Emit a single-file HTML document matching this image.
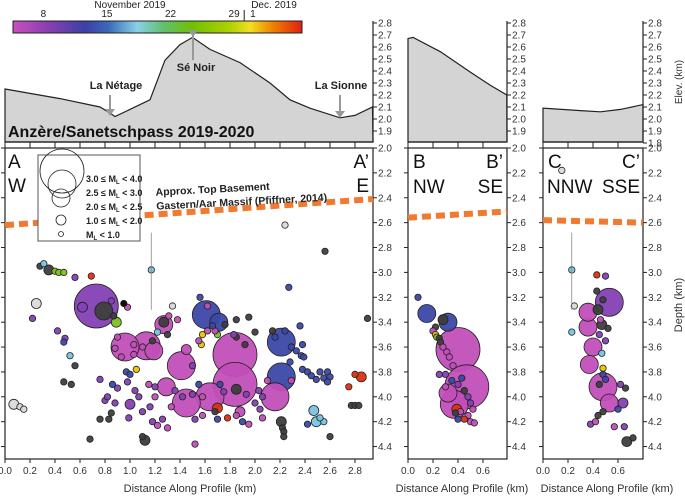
<!DOCTYPE html>
<html><head><meta charset="utf-8"><style>
body{margin:0;background:#fff;}
svg{display:block;font-family:"Liberation Sans",Arial,sans-serif;}
</style></head><body>
<svg id="fig" width="685" height="496" viewBox="0 0 685 496" xmlns="http://www.w3.org/2000/svg">
<defs>
<linearGradient id="cbar" x1="0" x2="1" y1="0" y2="0">
<stop offset="0" stop-color="#c850c0"/><stop offset="0.12" stop-color="#8a3fb0"/><stop offset="0.25" stop-color="#3c40a8"/><stop offset="0.33" stop-color="#3a6ab8"/><stop offset="0.43" stop-color="#8ad0e8"/><stop offset="0.52" stop-color="#60c070"/><stop offset="0.62" stop-color="#70c000"/><stop offset="0.75" stop-color="#b0d000"/><stop offset="0.82" stop-color="#f0e020"/><stop offset="0.9" stop-color="#f08000"/><stop offset="1" stop-color="#e02010"/>
</linearGradient>
</defs>
<g id="static"></g>
<g id="marks"></g>
</svg>
<script>
// ---- data ----
const elevAkm=[0,0.44,0.76,0.84,0.88,1.16,1.28,1.40,1.50,1.64,1.88,2.12,2.28,2.44,2.68,2.80,2.94];
const elevAval=[2.25,2.17,2.1,2.05,2.02,2.16,2.49,2.62,2.68,2.58,2.47,2.3,2.16,2.09,2.01,2.03,2.1];
const elevBkm=[0,0.04,0.26,0.50,0.66,0.79];
const elevBval=[2.67,2.68,2.56,2.39,2.28,2.2];
const elevCkm=[0,0.3,0.46,0.62,0.8];
const elevCval=[2.09,2.07,2.06,2.08,2.12];
const basementA=[2.62,2.41];
const basementB=[2.56,2.51];
const basementC=[2.58,2.6];
const depthTicks=[2.0,2.2,2.4,2.6,2.8,3.0,3.2,3.4,3.6,3.8,4.0,4.2,4.4];
const elevTicks=[2.8,2.7,2.6,2.5,2.4,2.3,2.2,2.1,2.0,1.9];
const distTicksA=[0.0,0.2,0.4,0.6,0.8,1.0,1.2,1.4,1.6,1.8,2.0,2.2,2.4,2.6,2.8];
const distTicksB=[0.0,0.2,0.4,0.6];
const cbarTicks=["8","15","22","29","1"];
const cbarTickPos=[0.105,0.325,0.545,0.765,0.83];

const aDist=[0.73,0.79,0.62,0.96,1.13,1.19,1.27,1.27,1.61,1.71,1.84,1.84,1.64,1.45,1.41,1.45,1.29,2.21,2.21,2.16,1.00,2.85,0.07,2.47,2.49,1.88,2.21,1.70,1.12,1.85,0.89,0.35,0.25,
0.28,0.31,0.40,0.43,0.47,0.56,0.69,1.17,2.24,2.56,2.27,1.56,1.34,2.9,0.22,0.42,0.48,0.47,0.52,0.56,0.47,0.53,0.76,0.68,0.76,0.83,0.85,0.8,0.82,0.88,0.9,0.86,0.97,1.0,1.05,0.98,1.04,1.07,1.1,0.99,1.15,1.2,1.2,1.16,1.18,1.22,1.26,1.3,1.33,1.36,1.42,1.5,1.55,1.58,1.58,1.52,1.52,1.68,1.7,1.78,1.85,1.9,1.95,1.93,1.75,1.72,1.5,1.57,1.58,1.55,1.62,1.7,1.68,1.85,2.0,1.92,1.83,1.38,1.31,1.3,1.22,1.18,1.1,1.03,0.9,0.88,1.03,0.93,1.76,1.95,1.85,1.62,1.66,2.36,2.24,2.29,2.33,2.37,2.39,2.38,2.28,2.38,2.42,2.45,2.49,2.52,2.55,2.58,2.6,2.58,2.29,2.1,2.03,2.06,2.04,2.06,2.0,2.22,2.23,2.23,2.6,2.42,2.55,2.52,2.75,2.8,2.77,2.8,2.83,2.16,2.14,0.12,0.15,1.1,0.87,0.85,0.98,0.95];
const aDepth=[3.27,3.31,3.28,3.60,3.59,3.63,3.42,3.40,3.34,3.40,3.66,3.90,4.00,4.05,3.75,3.62,3.92,3.56,3.84,4.00,4.06,3.84,4.06,4.11,4.20,4.12,4.20,4.09,4.35,3.94,3.40,2.98,3.25,
2.95,2.93,2.99,3.0,3.0,3.04,3.03,2.98,2.62,2.83,3.12,3.2,3.27,3.37,3.37,3.47,3.53,3.56,3.67,3.75,3.88,3.9,3.86,4.34,4.18,4.18,4.13,4.03,4.0,4.05,3.93,3.9,3.8,3.82,3.78,3.88,3.95,4.0,4.12,4.17,3.9,3.92,4.0,4.08,4.2,4.23,4.18,4.25,4.08,3.95,4.0,3.98,3.9,4.0,4.15,4.18,4.38,4.12,4.18,4.17,4.15,4.2,4.22,3.98,3.96,3.9,3.75,3.58,3.5,3.55,3.47,3.5,3.47,3.52,3.48,3.58,3.5,3.38,3.35,3.5,3.48,3.55,3.6,3.58,3.52,3.61,3.66,3.68,3.42,3.36,3.38,3.27,3.43,3.43,3.47,3.6,3.63,3.67,3.68,3.58,3.72,3.78,3.8,3.83,3.86,3.8,3.85,3.8,3.84,3.88,3.87,3.87,3.95,4.0,4.1,4.17,4.05,4.25,4.28,4.32,4.32,4.22,4.2,4.17,3.92,3.82,4.07,4.07,4.07,3.52,3.47,4.08,4.1,4.32,3.35,3.23,3.28,3.25];
const aMag=[3.2,2.3,1.2,2.6,2.8,2.3,2.4,1.5,2.6,2.2,3.3,3.3,2.9,2.9,2.6,1.8,2.4,2.6,2.6,2.6,1.9,1.9,1.9,1.2,1.5,1.8,1.2,1.2,1.2,1.2,1.2,1.5,1.5];
const aColor="PKPMMMMKBBMMMMMMMBBMPRWLLMKRKKGKW"+"KLGGGPRLWKBBWKPPPBLKKKPKKKKPPPPBBBYPPPPPMPMPPMPMMPPPBMMPMKBRMBMPPBPYYMMGMKKKPMMKLKMMMMMMKKKMBBBBBBBBBBBBBBBBBBMMPPPMPKKKKBLLRRKKKBKWWKKPM";

const bDist=[0.08,0.15,0.32,0.28,0.4,0.47,0.32,0.37,0.39,0.22,0.2,0.22,0.23,0.25,0.26,0.28,0.31,0.33,0.36,0.3,0.35,0.4,0.45,0.48,0.5,0.52,0.48,0.45,0.4,0.5,0.53,0.42,0.38,0.3,0.43,0.25];
const bDepth=[3.2,3.33,3.4,3.38,3.62,3.92,3.97,4.06,4.1,3.44,3.47,3.5,3.52,3.53,3.56,3.6,3.64,3.68,3.75,3.82,3.87,3.9,3.95,4.0,4.05,4.1,4.15,4.18,4.18,4.2,4.21,4.12,4.13,3.92,3.85,3.82];
const bMag=[0.5,2.2,2.1,1.2,3.3,3.3,2.4,2.6,1.2];
const bColor="BBBKMMMMRKMYGKKMMMMPBPKPPMMRBMMMKMBP";

const cDist=[0.15,0.23,0.25,0.43,0.5,0.43,0.53,0.36,0.44,0.36,0.47,0.4,0.37,0.48,0.53,0.64,0.67,0.23,0.47,0.48,0.48,0.5,0.45,0.62,0.66,0.38,0.42,0.57,0.65,0.48,0.44,0.6,0.45,0.5,0.52,0.46,0.48,0.72];
const cDepth=[2.18,2.98,3.27,3.02,3.03,3.15,3.24,3.32,3.3,3.44,3.42,3.6,3.74,3.92,4.05,4.05,4.36,3.48,3.65,3.77,3.82,3.86,3.9,3.9,3.93,4.22,4.2,4.24,4.24,4.12,4.15,4.1,3.5,3.55,3.45,3.38,3.22,4.33];
const cMag=[0.5,0.5,0.5,0.5,0.5,0.5,2.6,2.3,1.8,2.4,1.2,2.4,2.3,2.8,2.4,1.9,1.2];
const cColor="WLWRPKPMKMKMMMMPKLLYBBKPKPMMPKKBPPKMKK";

const palette={M:"#c24fb8",P:"#8440b4",B:"#3b48a6",K:"#3e3e3e",L:"#78c4e4",G:"#7cc21e",R:"#e0300e",Y:"#e8c400",W:"#dadada"};

// ---- helpers ----
const NS="http://www.w3.org/2000/svg";
const S=document.getElementById('static'), MK=document.getElementById('marks');
function el(tag,attrs,parent,txt){const e=document.createElementNS(NS,tag);for(const k in attrs)e.setAttribute(k,attrs[k]);if(txt!==undefined)e.textContent=txt;(parent||S).appendChild(e);return e;}
const Y0=148,KM=124.4;
function yD(d){return Y0+(d-2.0)*KM;}
function yE(e){return 23+(2.8-e)*120;}
const panels=[{x0:5,x1:373,lab:378},{x0:408,x1:507,lab:512},{x0:543,x1:643,lab:648}];
function xP(p,d){return panels[p].x0+d*125;}
function rad(m){return m<1?3.2:m<2?5:m<2.5?9:m<3?14:22;}

// colorbar
let g=el('g',{});


el('rect',{x:13,y:21,width:289,height:12,fill:'url(#cbar)',stroke:'#222','stroke-width':1},g);
cbarTicks.forEach((t,i)=>{const x=13+cbarTickPos[i]*289;const tx=el('text',{x:x,y:17,'font-size':'10','text-anchor':'middle',fill:'#222'},g,t);});
el('line',{x1:13+0.8*289,x2:13+0.8*289,y1:10,y2:21,stroke:'#222'},g);
el('text',{x:130,y:8,'font-size':'10','text-anchor':'middle',fill:'#222'},g,'November 2019');
el('text',{x:274,y:8,'font-size':'10','text-anchor':'middle',fill:'#222'},g,'Dec. 2019');

// elevation panels
function profile(p,kms,vals,name){
  const x0=panels[p].x0,x1=panels[p].x1;
  let d='M'+x0+','+142;
  kms.forEach((k,i)=>{d+=' L'+xP(p,k).toFixed(1)+','+yE(vals[i]).toFixed(1);});
  d+=' L'+x1+',142 Z';
  const pa=el('path',{d:d,fill:'#d4d4d4',stroke:'#222','stroke-width':1.2});
  
  
  el('line',{x1:x1,x2:x1,y1:21,y2:142,stroke:'#222','stroke-width':1.2});
  el('line',{x1:x0,x2:x1,y1:142,y2:142,stroke:'#222','stroke-width':1.2});
  const ticks=p===2?elevTicks.concat([1.8]):elevTicks;
  ticks.forEach(t=>{el('line',{x1:x1,x2:x1+4,y1:yE(t),y2:yE(t),stroke:'#222'});
    const tx=el('text',{x:panels[p].lab,y:yE(t)+3.5,'font-size':'10',fill:'#333'},S,t.toFixed(1));
    });
}
profile(0,elevAkm,elevAval,'elevation-profile-a');
profile(1,elevBkm,elevBval,'elevation-profile-b');
profile(2,elevCkm,elevCval,'elevation-profile-c');
// labels in elevation
function arrow(x,y1,y2){el('line',{x1:x,x2:x,y1:y1,y2:y2-6,stroke:'#999','stroke-width':2});el('path',{d:`M${x-5},${y2-7} L${x+5},${y2-7} L${x},${y2} Z`,fill:'#999'});}
el('text',{x:116,y:89,'font-size':'11','font-weight':'bold','text-anchor':'middle',fill:'#222'},S,'La Nétage');arrow(110,95,116);
el('text',{x:196,y:71,'font-size':'11','font-weight':'bold','text-anchor':'middle',fill:'#222'},S,'Sé Noir');arrow(193,60,37);
el('text',{x:341,y:89,'font-size':'11','font-weight':'bold','text-anchor':'middle',fill:'#222'},S,'La Sionne');arrow(340,95,118);
el('text',{x:8,y:137,'font-size':'16','font-weight':'bold',fill:'#111'},S,'Anzère/Sanetschpass 2019-2020');
const et=el('text',{x:0,y:0,'font-size':'10',fill:'#333',transform:'translate(682,82) rotate(-90)','text-anchor':'middle'},S,'Elev. (km)');

// depth frames
panels.forEach((P,p)=>{
  const fr=el('rect',{x:P.x0,y:Y0,width:P.x1-P.x0,height:459-Y0,fill:'none',stroke:'#222','stroke-width':1.2});
  
  depthTicks.forEach(t=>{el('line',{x1:P.x1,x2:P.x1+4,y1:yD(t),y2:yD(t),stroke:'#222'});
    el('line',{x1:P.x0,x2:P.x0-4,y1:yD(t),y2:yD(t),stroke:'#222'});
    const tx=el('text',{x:P.lab,y:yD(t)+3.5,'font-size':'10',fill:'#333'},S,t.toFixed(1));
    });
  const dt=p===0?distTicksA:distTicksB;
  dt.forEach(t=>{const x=xP(p,t);el('line',{x1:x,x2:x,y1:459,y2:463,stroke:'#222'});el('line',{x1:x,x2:x,y1:142,y2:148,stroke:'#222'});
    const tx=el('text',{x:x,y:474,'font-size':'10','text-anchor':'middle',fill:'#333'},S,t.toFixed(1));
    });
  const xl=el('text',{x:p===0?190:(p===1?462:607),y:492,'font-size':'11','text-anchor':'middle',fill:'#333'},S,'Distance Along Profile (km)');
  
});
el('text',{x:0,y:0,'font-size':'11',fill:'#333',transform:'translate(682,305) rotate(-90)','text-anchor':'middle'},S,'Depth (km)');

// basement lines
[[0,basementA],[1,basementB],[2,basementC]].forEach(([p,b])=>{
  const l=el('line',{x1:panels[p].x0,x2:panels[p].x1,y1:yD(b[0]),y2:yD(b[1]),stroke:'#f07a30','stroke-width':6,'stroke-dasharray':'9,5'});
  
});
const bt=el('g',{transform:'rotate(-3 150 200)'});
el('text',{x:156,y:196,'font-size':'10.5','font-weight':'bold',fill:'#222'},bt,'Approx. Top Basement');
el('text',{x:156,y:210,'font-size':'10.5','font-weight':'bold',fill:'#222'},bt,'Gastern/Aar Massif (Pfiffner, 2014)');

// panel letters
function big(x,y,t,anchor){const e=el('text',{x:x,y:y,'font-size':'19',fill:'#111','text-anchor':anchor||'start'},S,t);return e;}
big(8,168,'A');big(8,192,'W');big(369,168,'A’','end');big(369,192,'E','end');
big(413,168,'B');big(503,168,'B’','end');big(413,193,'NW');big(503,193,'SE','end');
big(548,168,'C');big(640,168,'C’','end');big(547,193,'NNW');big(640,193,'SSE','end');

// events
function drawEvents(p,dist,depth,mag,colors,name){
  const idx=dist.map((_,i)=>i).sort((a,b)=>(mag[b]||0.5)-(mag[a]||0.5));
  idx.forEach(i=>{
    const m=mag[i]!==undefined?mag[i]:0.5;
    const c=el('circle',{cx:xP(p,dist[i]).toFixed(1),cy:yD(depth[i]).toFixed(1),r:rad(m),fill:palette[colors[i]],stroke:'#222','stroke-width':0.8,'fill-opacity':0.95},MK);
    
    
  });
}
drawEvents(0,aDist,aDepth,aMag,aColor,'event-a');
drawEvents(1,bDist,bDepth,bMag,bColor,'event-b');
drawEvents(2,cDist,cDepth,cMag,cColor,'event-c');
// error bars for a few
[[0,1.17,2.68,3.3],[2,0.23,2.68,3.3]].forEach(([p,d,a,b])=>{el('line',{x1:xP(p,d),x2:xP(p,d),y1:yD(a),y2:yD(b),stroke:'#888','stroke-width':0.8},MK);});

// legend
const L=el('g',{},MK);


el('rect',{x:38,y:155,width:102,height:86,fill:'#fff',stroke:'#555','stroke-width':1},L);
[[62,171,22],[62,184,14],[61,198,9],[61,220,5],[61,234,2.5]].forEach(c=>el('circle',{cx:c[0],cy:c[1],r:c[2],fill:'none',stroke:'#222','stroke-width':0.8},L));
[['3.0 ≤ M','L',' < 4.0',182],['2.5 ≤ M','L',' < 3.0',196],['2.0 ≤ M','L',' < 2.5',210],['1.0 ≤ M','L',' < 2.0',224],['M','L',' < 1.0',238]].forEach(r=>{
  const t=el('text',{x:86,y:r[3],'font-size':'9','font-weight':'bold',fill:'#222'},L);
  el('tspan',{},t,r[0]);el('tspan',{'font-size':'6',dy:'2'},t,r[1]);el('tspan',{dy:'-2'},t,r[2]);
});
</script>
</body></html>
